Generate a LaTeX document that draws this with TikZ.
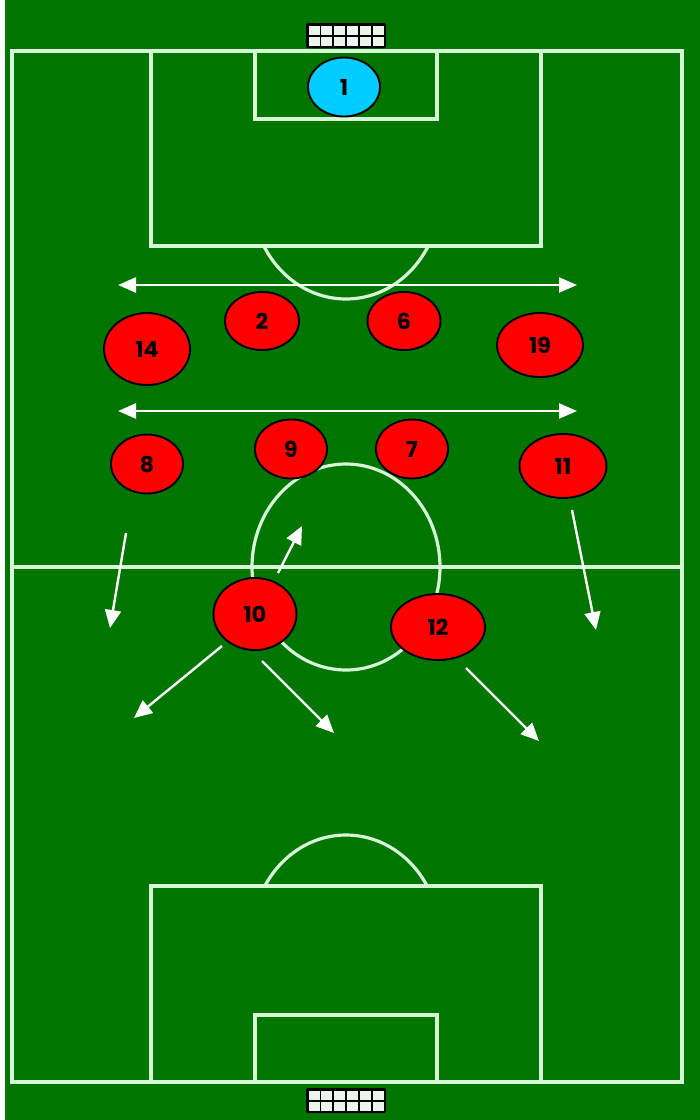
\documentclass[tikz,border=0pt]{standalone}
\usepackage{fontspec}
\newfontfamily\numfont{Poppins}
\usetikzlibrary{shapes.geometric, arrows.meta}

\definecolor{grass}{RGB}{0,118,0}
\definecolor{chalk}{RGB}{215,248,215}
\definecolor{keepcol}{RGB}{0,204,255}
\definecolor{netcol}{RGB}{235,245,235}

\begin{document}
\begin{tikzpicture}[
        x=1pt, y=-1pt,
        pitch/.style={draw=chalk, line width=3.2pt},
        player/.style={ellipse, draw=black, line width=1.9pt, fill=red, inner sep=0pt,
                       font=\numfont\bfseries\fontsize{22}{22}\selectfont},
        keeper/.style={player, fill=keepcol},
        runarrow/.style={-{Triangle[length=18pt, width=16pt]}, white, line width=2.4pt},
        slide/.style={{Triangle[length=18pt, width=15pt]}-{Triangle[length=18pt, width=15pt]}, white, line width=2.4pt}
    ]
        % Background
        \useasboundingbox (0,0) rectangle (700,1120);
        \fill[white] (0,0) rectangle (5,1120);
        \fill[grass] (5,0) rectangle (700,1120);

        % Pitch markings
        \draw[pitch] (12,51) rectangle (682,1082);
        \draw[pitch] (12,567) -- (682,567);
        \draw[pitch] (346,567) ellipse [x radius=94, y radius=103];
        \draw[pitch] (151,51) rectangle (541,246);
        \draw[pitch] (255,51) rectangle (437,119);
        \draw[pitch] (151,886) rectangle (541,1082);
        \draw[pitch] (255,1015) rectangle (437,1082);
        \begin{scope}
            \clip (0,247) rectangle (700,400);
            \draw[pitch] (346,196) ellipse [x radius=94, y radius=103];
        \end{scope}
        \begin{scope}
            \clip (0,700) rectangle (700,885);
            \draw[pitch] (346,938) ellipse [x radius=94, y radius=103];
        \end{scope}

        % Goals
        \foreach \gy in {23,1088} {
            \fill[black, rounded corners=2pt] (306,\gy) rectangle (386,\gy+25);
            \foreach \i in {0,...,5}
                \foreach \j in {0,1}
                    \fill[netcol] (308.5+\i*12.9,\gy+2.5+\j*11) rectangle ++(11,9);
        }

        % Arrow ends
        \coordinate (wa) at (118,285);
        \coordinate (ea) at (577,285);
        \coordinate (wb) at (118,411);
        \coordinate (eb) at (577,411);
        \coordinate (s8) at (126,533);
        \coordinate (t8) at (110,628);
        \coordinate (s10u) at (278,573);
        \coordinate (t10u) at (302,526);
        \coordinate (s10l) at (222,646);
        \coordinate (t10l) at (134,718);
        \coordinate (s10r) at (262,661);
        \coordinate (t10r) at (334,733);
        \coordinate (s11) at (572,510);
        \coordinate (t11) at (596,630);
        \coordinate (s12) at (466,668);
        \coordinate (t12) at (539,741);

        % Movements
        \draw[slide] (wa) -- (ea);
        \draw[slide] (wb) -- (eb);
        \draw[runarrow] (s8) -- (t8);
        \draw[runarrow] (s10u) -- (t10u);
        \draw[runarrow] (s10l) -- (t10l);
        \draw[runarrow] (s10r) -- (t10r);
        \draw[runarrow] (s11) -- (t11);
        \draw[runarrow] (s12) -- (t12);

        % Players
        \node[keeper, minimum width=72, minimum height=59] (p1) at (344,87) {1};
        \node[player, minimum width=74, minimum height=58] (p2) at (262,321) {2};
        \node[player, minimum width=73, minimum height=58] (p6) at (404,321) {6};
        \node[player, minimum width=86, minimum height=72] (p14) at (147,349) {14};
        \node[player, minimum width=86, minimum height=64] (p19) at (540,345) {19};
        \node[player, minimum width=72, minimum height=59] (p8) at (147,464) {8};
        \node[player, minimum width=72, minimum height=59] (p9) at (291,449) {9};
        \node[player, minimum width=72, minimum height=59] (p7) at (412,449) {7};
        \node[player, minimum width=87, minimum height=64] (p11) at (563,466) {11};
        \node[player, minimum width=83, minimum height=72] (p10) at (255,614) {10};
        \node[player, minimum width=94, minimum height=66] (p12) at (438,627) {12};

    \end{tikzpicture}
\end{document}
